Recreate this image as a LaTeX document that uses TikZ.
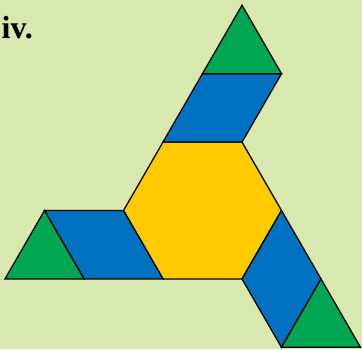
\documentclass[tikz,border=0pt]{standalone}
\usepackage{fontspec}
\setmainfont{Liberation Serif}
\definecolor{bgc}{RGB}{217,232,174}
\definecolor{hexc}{RGB}{255,202,0}
\definecolor{bluec}{RGB}{0,112,192}
\definecolor{greenc}{RGB}{0,166,81}
\begin{document}
\begin{tikzpicture}[x=1pt,y=-1pt,
  piece/.style={draw=black,line width=1.3pt,line join=miter},
  hexpiece/.style={piece,fill=hexc},
  rhomb/.style={piece,fill=bluec},
  tri/.style={piece,fill=greenc}]
\fill[bgc] (0,0) rectangle (362,349);
\useasboundingbox (0,0) rectangle (362,349);
% hexagon vertices
\coordinate (H1) at (281.5,210.5);
\coordinate (H2) at (242,278.92);
\coordinate (H3) at (163,278.92);
\coordinate (H4) at (123.5,210.5);
\coordinate (H5) at (163,142.08);
\coordinate (H6) at (242,142.08);
% top arm
\coordinate (T1) at (202.5,73.66);
\coordinate (T2) at (281.5,73.66);
\coordinate (T3) at (242,5.24);
% left arm
\coordinate (L1) at (44.5,210.5);
\coordinate (L2) at (84,278.92);
\coordinate (L3) at (5,278.92);
% right arm
\coordinate (R1) at (321,278.92);
\coordinate (R2) at (281.5,347.34);
\coordinate (R3) at (360.5,347.34);
\draw[hexpiece] (H1) -- (H2) -- (H3) -- (H4) -- (H5) -- (H6) -- cycle;
\draw[rhomb] (H5) -- (H6) -- (T2) -- (T1) -- cycle;
\draw[tri] (T1) -- (T2) -- (T3) -- cycle;
\draw[rhomb] (L1) -- (H4) -- (H3) -- (L2) -- cycle;
\draw[tri] (L1) -- (L2) -- (L3) -- cycle;
\draw[rhomb] (H1) -- (R1) -- (R2) -- (H2) -- cycle;
\draw[tri] (R1) -- (R3) -- (R2) -- cycle;
\node[anchor=base west,inner sep=0pt,font=\bfseries\fontsize{32}{34}\selectfont] (label) at (1.5,38) {iv.};
\end{tikzpicture}
\end{document}
